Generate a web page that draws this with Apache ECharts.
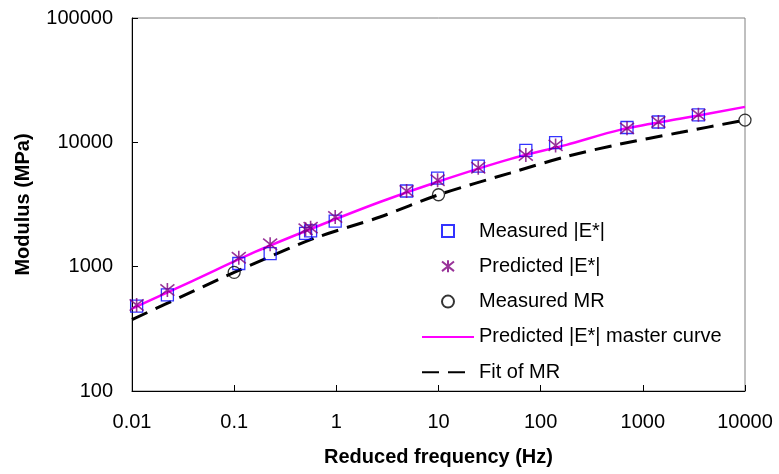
<!DOCTYPE html>
<html>
<head>
<meta charset="utf-8">
<script src="https://cdn.jsdelivr.net/npm/echarts@6/dist/echarts.min.js"></script>
<style>html,body{margin:0;padding:0;background:#fff;}#c{width:779px;height:474px;}</style>
</head>
<body>
<div id="c"></div>
<script>
// Measured and predicted dynamic modulus |E*|
var freqE = [0.0111, 0.0222, 0.111, 0.225, 0.50, 0.56, 0.975, 4.87, 9.8, 24.5, 71.6, 140, 700, 1420, 3500];
var measuredE = [482, 592, 1060, 1275, 1850, 1940, 2320, 4060, 5150, 6430, 8620, 9960, 13160, 14570, 16650];
var predictedE = [492, 649, 1180, 1515, 2000, 2060, 2507, 4060, 4950, 6250, 7900, 9450, 12950, 14550, 16650];
// Measured resilient modulus
var freqMR = [0.1, 10, 10000];
var measuredMR = [900, 3787, 15100];
// Predicted |E*| master curve
var freqCurve = [0.01, 0.0384, 0.16, 0.594, 2.67, 10, 50, 179, 596, 2300, 10000];
var masterCurve = [460, 762, 1313, 2047, 3311, 4842, 7328, 9540, 12590, 15450, 19280];
// Fit of MR
var freqFit = [0.01, 0.0384, 0.1, 0.594, 2.67, 10, 50, 179, 596, 2300, 10000];
var fitMR = [375, 626, 900, 1678, 2507, 3787, 5660, 7690, 9670, 11990, 15100];

function pairs(xs, ys) { return xs.map(function (x, i) { return [x, ys[i]]; }); }
var FONT = '"Liberation Sans", Arial, sans-serif';
function fmt(v) { return String(Number(Number(v).toPrecision(6))); }
var NOSYM = {color: 'rgba(0,0,0,0)', borderColor: 'rgba(0,0,0,0)', borderWidth: 0};

var chart = echarts.init(document.getElementById('c'), null, {renderer: 'canvas'});
chart.setOption({
  animation: false,
  backgroundColor: '#ffffff',
  grid: {left: 132, right: 34, top: 18, bottom: 83, show: true, borderColor: '#808080', borderWidth: 1, backgroundColor: 'transparent'},
  xAxis: {
    type: 'log', logBase: 10, min: 0.01, max: 10000,
    name: 'Reduced frequency (Hz)', nameLocation: 'middle', nameGap: 56,
    nameTextStyle: {fontFamily: FONT, fontSize: 20, fontWeight: 'bold', color: '#000'},
    axisLine: {show: true, lineStyle: {color: '#000', width: 1}},
    axisTick: {show: true, inside: true, length: 6, lineStyle: {color: '#000'}},
    minorTick: {show: false},
    splitLine: {show: false},
    axisLabel: {fontFamily: FONT, fontSize: 20, color: '#000', margin: 21, formatter: fmt}
  },
  yAxis: {
    type: 'log', logBase: 10, min: 100, max: 100000,
    name: 'Modulus (MPa)', nameLocation: 'middle', nameGap: 99, nameRotate: 90,
    nameTextStyle: {fontFamily: FONT, fontSize: 20, fontWeight: 'bold', color: '#000'},
    axisLine: {show: true, lineStyle: {color: '#000', width: 1}},
    axisTick: {show: true, inside: true, length: 6, lineStyle: {color: '#000'}},
    splitLine: {show: false},
    axisLabel: {fontFamily: FONT, fontSize: 20, color: '#000', margin: 19, formatter: fmt}
  },
  legend: {
    orient: 'vertical', left: 421, top: 221, padding: 0, itemWidth: 52, itemHeight: 12, itemGap: 15.3,
    textStyle: {fontFamily: FONT, fontSize: 20, color: '#000'},
    data: [
      {name: 'Measured |E*|', icon: 'path://M0,0L10,0L10,10L0,10Z'},
      {name: 'Predicted |E*|'},
      {name: 'Measured MR'},
      {name: 'Predicted |E*| master curve', itemStyle: NOSYM},
      {name: 'Fit of MR', itemStyle: NOSYM}
    ]
  },
  series: [
    {
      name: 'Predicted |E*| master curve', type: 'line', data: pairs(freqCurve, masterCurve),
      smooth: 0.3, showSymbol: false, symbol: 'none', z: 2,
      lineStyle: {color: '#ff00ff', width: 2.5}, itemStyle: {color: '#ff00ff'}
    },
    {
      name: 'Fit of MR', type: 'line', data: pairs(freqFit, fitMR),
      smooth: 0.3, showSymbol: false, symbol: 'none', z: 2,
      lineStyle: {color: '#000', width: 3, type: [17, 9]}, itemStyle: {color: '#000'}
    },
    {
      name: 'Measured |E*|', type: 'scatter', data: pairs(freqE, measuredE),
      symbol: 'rect', symbolSize: 12, z: 3,
      itemStyle: {color: 'transparent', borderColor: '#0000ff', borderWidth: 1.3}
    },
    {
      name: 'Predicted |E*|', type: 'scatter', data: pairs(freqE, predictedE),
      symbol: 'path://M0,1L10,9M10,1L0,9M5,0L5,10', symbolSize: 14, z: 4,
      itemStyle: {color: 'transparent', borderColor: '#800080', borderWidth: 1.6}
    },
    {
      name: 'Measured MR', type: 'scatter', data: pairs(freqMR, measuredMR),
      symbol: 'circle', symbolSize: 12, z: 4,
      itemStyle: {color: 'transparent', borderColor: '#000', borderWidth: 1.3}
    }
  ]
});
</script>
</body>
</html>
